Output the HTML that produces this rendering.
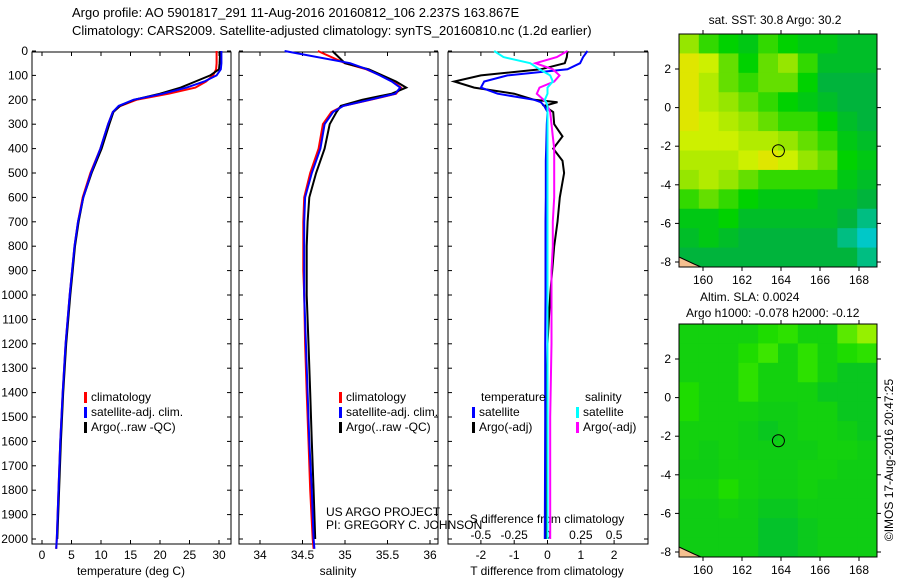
<!DOCTYPE html>
<html><head><meta charset="utf-8"><style>
body{margin:0;background:#fff;width:900px;height:580px;overflow:hidden}
svg{font-family:"Liberation Sans",sans-serif;font-size:12px}
</style></head><body>
<svg id="fig" width="900" height="580" viewBox="0 0 900 580">
<text x="72" y="17" font-size="13">Argo profile: AO 5901817_291 11-Aug-2016 20160812_106 2.237S 163.867E</text>
<text x="72" y="35" font-size="13">Climatology: CARS2009. Satellite-adjusted climatology: synTS_20160810.nc (1.2d earlier)</text>
<g id="g"></g>
</svg>
<script>
// ---------- data ----------
const depth=[0,50,75,100,125,150,175,200,225,250,300,400,500,600,700,800,900,1000,1200,1400,1600,1800,2000,2040];
const tClim=[29.6,29.6,29.5,29.0,27.8,26.0,21.5,16.0,13.3,12.0,11.2,9.9,8.2,6.9,6.1,5.5,5.1,4.7,4.0,3.5,3.1,2.8,2.5,2.4];
const tSat=[30.4,30.4,30.3,29.6,27.5,24.5,20.5,15.5,13.0,12.0,11.2,9.9,8.3,7.0,6.1,5.5,5.1,4.7,4.0,3.5,3.1,2.8,2.5,2.4];
const tArgo=[30.2,30.1,30.0,28.5,26.0,23.5,20.0,15.6,13.2,12.1,11.4,10.1,8.4,7.0,6.2,5.6,5.2,4.8,4.1,3.6,3.2,2.9,2.6];
const sClim=[34.68,35.0,35.25,35.42,35.57,35.66,35.6,35.3,34.98,34.84,34.74,34.69,34.59,34.52,34.51,34.51,34.51,34.52,34.53,34.55,34.57,34.59,34.62,34.63];
const sSat=[34.29,35.06,35.26,35.41,35.55,35.65,35.59,35.29,34.98,34.86,34.76,34.71,34.61,34.53,34.52,34.52,34.52,34.52,34.54,34.56,34.58,34.61,34.63,34.64];
const sArgo=[34.85,35.0,35.28,35.44,35.6,35.72,35.55,35.2,34.95,34.9,34.82,34.76,34.66,34.58,34.56,34.55,34.55,34.55,34.57,34.59,34.61,34.63,34.65];
const dDepth=[0,25,50,75,100,125,150,175,200,210,225,250,300,350,400,450,500,600,700,800,900,1000,1200,1500,2000];
const dTSat=[1.2,1.07,0.98,0.6,-1.2,-1.9,-2.0,-1.5,-0.4,-0.2,-0.1,0,-0.02,-0.03,-0.04,-0.05,-0.05,-0.05,-0.06,-0.06,-0.06,-0.06,-0.07,-0.07,-0.08];
const dTArgo=[0.6,0.58,0.52,-0.2,-2.0,-2.8,-2.2,-1.0,-0.4,0.3,-0.1,0.17,0.2,0.45,0.17,0.45,0.5,0.37,0.3,0.2,0.14,0.08,0.0,-0.05,-0.05];
const dSSat=[-0.4,-0.33,-0.13,-0.06,0.02,0.04,0.0,0.0,-0.02,-0.01,0.0,0.0,0.0,0.0,0.0,0.0,0.0,0.0,0.0,0.0,0.0,0.0,0.0,0.0,0.0];
const dSArgo=[0.15,0.07,-0.09,0.04,0.09,0.05,-0.06,-0.08,-0.03,-0.01,0.0,0.02,0.03,0.04,0.05,0.05,0.05,0.05,0.04,0.04,0.03,0.03,0.03,0.02,0.02];
const depthTicks=[0,100,200,300,400,500,600,700,800,900,1000,1100,1200,1300,1400,1500,1600,1700,1800,1900,2000];
const tTicks=[0,5,10,15,20,25,30];
const sTicks=[34,34.5,35,35.5,36];
const dTTicks=[-2,-1,0,1,2];
const dSTicks=[-0.5,-0.25,0,0.25,0.5];
const lonTicks=[160,162,164,166,168];
const latTicks=[2,0,-2,-4,-6,-8];
const sstGrid=[
[0.6,0.5,0.45,0.4,0.5,0.45,0.4,0.4,0.35,0.35],
[0.75,0.7,0.55,0.45,0.55,0.6,0.5,0.35,0.35,0.35],
[0.75,0.65,0.55,0.5,0.55,0.55,0.45,0.3,0.3,0.3],
[0.75,0.65,0.6,0.55,0.5,0.45,0.4,0.35,0.3,0.3],
[0.75,0.7,0.65,0.6,0.55,0.5,0.5,0.45,0.35,0.3],
[0.7,0.7,0.7,0.65,0.65,0.6,0.55,0.5,0.4,0.35],
[0.65,0.65,0.65,0.7,0.75,0.7,0.6,0.55,0.45,0.4],
[0.6,0.65,0.6,0.55,0.5,0.5,0.5,0.5,0.4,0.35],
[0.5,0.55,0.5,0.45,0.4,0.4,0.4,0.35,0.35,0.3],
[0.4,0.4,0.45,0.35,0.35,0.35,0.35,0.35,0.3,0.25],
[0.35,0.4,0.35,0.3,0.3,0.3,0.3,0.3,0.25,0.2],
[0.3,0.3,0.3,0.3,0.3,0.3,0.3,0.3,0.3,0.25]];
const slaGrid=[
[0.4,0.4,0.4,0.4,0.45,0.5,0.4,0.4,0.6,0.7],
[0.4,0.4,0.4,0.45,0.55,0.4,0.5,0.4,0.45,0.5],
[0.4,0.4,0.4,0.5,0.4,0.4,0.5,0.4,0.35,0.35],
[0.45,0.4,0.4,0.5,0.4,0.4,0.4,0.35,0.35,0.35],
[0.45,0.4,0.4,0.4,0.38,0.38,0.4,0.4,0.35,0.35],
[0.4,0.4,0.4,0.38,0.35,0.38,0.4,0.4,0.38,0.35],
[0.4,0.38,0.4,0.38,0.38,0.38,0.38,0.4,0.4,0.38],
[0.38,0.38,0.4,0.4,0.38,0.38,0.4,0.4,0.38,0.38],
[0.4,0.4,0.45,0.4,0.38,0.38,0.4,0.38,0.38,0.38],
[0.38,0.38,0.4,0.38,0.35,0.35,0.38,0.38,0.38,0.38],
[0.38,0.38,0.38,0.38,0.32,0.32,0.36,0.38,0.38,0.38],
[0.38,0.38,0.38,0.38,0.32,0.32,0.36,0.38,0.38,0.38]];
// ---------- helpers ----------
const NS="http://www.w3.org/2000/svg", G=document.getElementById('g');
function mk(tag,attrs,parent){const e=document.createElementNS(NS,tag);for(const k in attrs)e.setAttribute(k,attrs[k]);(parent||G).appendChild(e);return e;}
const TOP=52,BOT=544;
const yD=d=>51+d*0.244;
function frame(x0,x1,name){const r=mk('rect',{x:x0,y:TOP,width:x1-x0,height:BOT-TOP,fill:'none',stroke:'#000','stroke-width':1});

depthTicks.forEach(d=>{mk('line',{x1:x0,x2:x0+4,y1:yD(d),y2:yD(d),stroke:'#000'});mk('line',{x1:x1,x2:x1-4,y1:yD(d),y2:yD(d),stroke:'#000'});});}
function line(xs,ds,fx,color,name,w){let p='';xs.forEach((v,i)=>{p+=(i?'L':'M')+fx(v).toFixed(1)+','+yD(ds[i]).toFixed(1);});
const e=mk('path',{d:p,fill:'none',stroke:color,'stroke-width':w||2});}
function txt(x,y,s,name,attrs){const e=mk('text',Object.assign({x:x,y:y},attrs||{}));e.textContent=s;return e;}
function legend(x,y,color,label,name){mk('rect',{x:x,y:y-9,width:3,height:11,fill:color});txt(x+7,y,label,name);}
// ---------- panel 1: temperature ----------
const xT=t=>42+t*5.9;
frame(32,231,'temperature-panel');
depthTicks.forEach(d=>txt(28,yD(d)+4,String(d),'depth-tick-label',{'text-anchor':'end'}));
tTicks.forEach(t=>{mk('line',{x1:xT(t),x2:xT(t),y1:BOT,y2:BOT-4,stroke:'#000'});mk('line',{x1:xT(t),x2:xT(t),y1:TOP,y2:TOP+4,stroke:'#000'});txt(xT(t),559,String(t),'temp-tick-label',{'text-anchor':'middle'});});
txt(131,575,'temperature (deg C)','x-axis-title-temperature',{'text-anchor':'middle'});
line(tClim,depth,xT,'#f00','temp-climatology-line');
line(tArgo,depth,xT,'#000','temp-argo-line');
line(tSat,depth,xT,'#00f','temp-satellite-line');
legend(84,401,'#f00','climatology','legend-climatology');
legend(84,416,'#00f','satellite-adj. clim.','legend-satellite');
legend(84,431,'#000','Argo(..raw -QC)','legend-argo');
// ---------- panel 2: salinity ----------
const xS=s=>260+(s-34)*85;
frame(239,438,'salinity-panel');
sTicks.forEach(s=>{mk('line',{x1:xS(s),x2:xS(s),y1:BOT,y2:BOT-4,stroke:'#000'});mk('line',{x1:xS(s),x2:xS(s),y1:TOP,y2:TOP+4,stroke:'#000'});txt(xS(s),559,String(s),'salinity-tick-label',{'text-anchor':'middle'});});
txt(338,575,'salinity','x-axis-title-salinity',{'text-anchor':'middle'});
line(sClim,depth,xS,'#f00','sal-climatology-line');
line(sArgo,depth,xS,'#000','sal-argo-line');
line(sSat,depth,xS,'#00f','sal-satellite-line');
legend(339,401,'#f00','climatology','legend-climatology-2');
legend(339,416,'#00f','satellite-adj. clim.','legend-satellite-2');
legend(339,431,'#000','Argo(..raw -QC)','legend-argo-2');
txt(326,516,'US ARGO PROJECT','project-label');
txt(326,529,'PI: GREGORY C. JOHNSON','pi-label');
// ---------- panel 3: differences ----------
const xDT=v=>547.5+v*33.3, xDS=v=>547.5+v*133.3;
frame(448,648,'difference-panel');
dTTicks.forEach(t=>{mk('line',{x1:xDT(t),x2:xDT(t),y1:BOT,y2:BOT-4,stroke:'#000'});mk('line',{x1:xDT(t),x2:xDT(t),y1:TOP,y2:TOP+4,stroke:'#000'});txt(xDT(t),559,String(t),'tdiff-tick-label',{'text-anchor':'middle'});});
dSTicks.forEach(s=>txt(xDS(s),539,String(s),'sdiff-tick-label',{'text-anchor':'middle'}));
txt(547,523,'S difference from climatology','s-diff-axis-title',{'text-anchor':'middle'});
txt(547,575,'T difference from climatology','t-diff-axis-title',{'text-anchor':'middle'});
line(dTArgo,dDepth,xDT,'#000','tdiff-argo-line');
line(dTSat,dDepth,xDT,'#00f','tdiff-satellite-line');
line(dSArgo,dDepth,xDS,'#f0f','sdiff-argo-line');
line(dSSat,dDepth,xDS,'#0ff','sdiff-satellite-line');
txt(481,401,'temperature','legend-temperature-header');
txt(585,401,'salinity','legend-salinity-header');
legend(472,416,'#00f','satellite','legend-t-satellite');
legend(472,431,'#000','Argo(-adj)','legend-t-argo');
legend(576,416,'#0ff','satellite','legend-s-satellite');
legend(576,431,'#f0f','Argo(-adj)','legend-s-argo');
// ---------- maps ----------
function interp(stops,v){for(let i=1;i<stops.length;i++){if(v<=stops[i][0]){const a=stops[i-1],b=stops[i],f=Math.max(0,(v-a[0])/(b[0]-a[0]));return 'rgb('+a[1].map((c,k)=>Math.round(c+(b[1][k]-c)*f)).join(',')+')';}}const l=stops[stops.length-1][1];return 'rgb('+l.join(',')+')';}
const cmapSST=v=>interp([[0.2,[0,200,200]],[0.3,[0,180,60]],[0.45,[0,210,0]],[0.6,[150,230,0]],[0.7,[205,240,0]],[0.8,[240,220,0]]],v);
const cmapSLA=v=>interp([[0.3,[0,190,50]],[0.38,[15,205,20]],[0.45,[30,220,0]],[0.55,[60,230,0]],[0.7,[150,240,0]]],v);
function map(y0,grid,cmap,name){
 const x0=679,x1=877,y1=y0+233;
 const xL=lon=>703+(lon-160)*19.5, yL=lat=>y0+35+(2-lat)*19.3;
 const rows=grid.length,cols=grid[0].length,cw=(x1-x0)/cols,ch=(y1-y0)/rows;
 grid.forEach((row,r)=>row.forEach((v,c)=>{const e=mk('rect',{x:x0+c*cw,y:y0+r*ch,width:cw+0.5,height:ch+0.5,fill:cmap(v)});
  }));
 mk('path',{d:`M${x0},${y1-10} L${x0+15},${y1-3} L${x0+22},${y1} L${x0},${y1} Z`,fill:'#f5c090',stroke:'#000'});
 const c=mk('circle',{cx:xL(163.867),cy:yL(-2.237),r:6,fill:'none',stroke:'#000'});
 
 const f=mk('rect',{x:x0,y:y0,width:x1-x0,height:y1-y0,fill:'none',stroke:'#000'});
 
 lonTicks.forEach(l=>{mk('line',{x1:xL(l),x2:xL(l),y1:y0,y2:y0-4,stroke:'#000'});mk('line',{x1:xL(l),x2:xL(l),y1:y1,y2:y1+4,stroke:'#000'});txt(xL(l),y1+17,String(l),'lon-tick-label',{'text-anchor':'middle'});});
 latTicks.forEach(l=>{mk('line',{x1:x0,x2:x0-4,y1:yL(l),y2:yL(l),stroke:'#000'});mk('line',{x1:x1,x2:x1+4,y1:yL(l),y2:yL(l),stroke:'#000'});txt(x0-8,yL(l)+4,String(l),'lat-tick-label',{'text-anchor':'end'});});
}
map(34,sstGrid,cmapSST,'sst-map');
txt(775,24,'sat. SST: 30.8 Argo: 30.2','sst-map-title',{'text-anchor':'middle'});
map(324,slaGrid,cmapSLA,'sla-map');
txt(700,301,'Altim. SLA: 0.0024','sla-map-title');
txt(686,317,'Argo h1000: -0.078 h2000: -0.12','sla-map-subtitle');
txt(0,0,'©IMOS 17-Aug-2016 20:47:25','imos-timestamp',{transform:'translate(893,460) rotate(-90)','text-anchor':'middle'});
</script>
</body></html>
